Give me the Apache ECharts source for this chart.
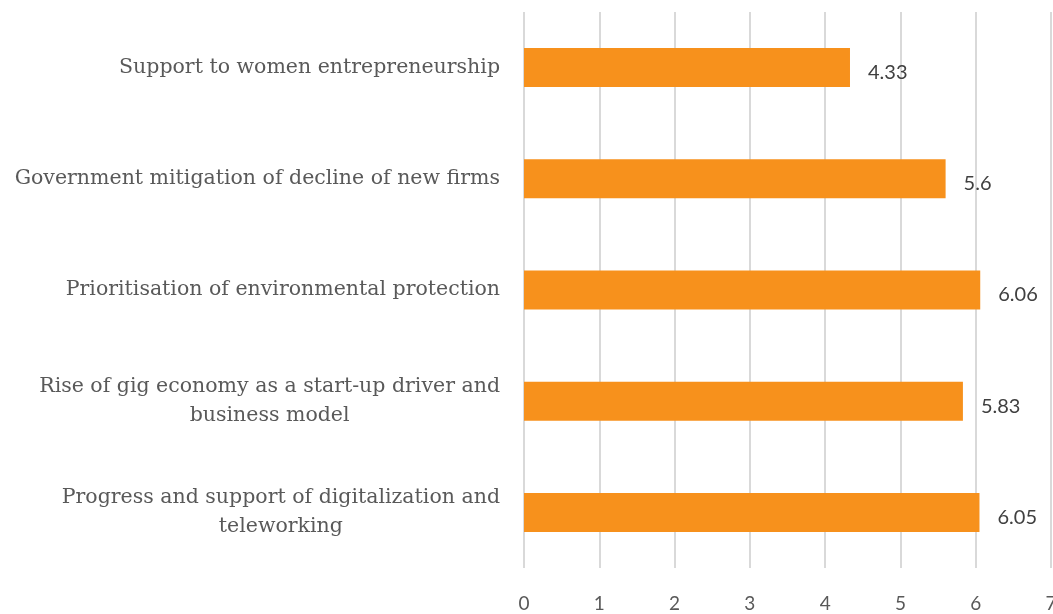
<!DOCTYPE html>
<html>
<head>
<meta charset="utf-8">
<script src="https://cdn.jsdelivr.net/npm/echarts@6/dist/echarts.min.js"></script>
<style>
  html, body { margin: 0; padding: 0; background: #fff; }
  #chart { width: 1053px; height: 614px; }
</style>
</head>
<body>
<div id="chart"></div>
<script>
// categories, top to bottom as drawn
const categories = [
  'Support to women entrepreneurship',
  'Government mitigation of decline of new firms',
  'Prioritisation of environmental protection',
  'Rise of gig economy as a start-up driver and\nbusiness model',
  'Progress and support of digitalization and\nteleworking'
];
const scores = [4.33, 5.6, 6.06, 5.83, 6.05];
const xTicks = [0, 7, 1]; // min, max, step

const chart = echarts.init(document.getElementById('chart'));

chart.setOption({
  backgroundColor: '#fff',
  animation: false,
  grid: { left: 524, right: 2, top: 12, bottom: 46, outerBoundsMode: 'none' },
  xAxis: {
    type: 'value',
    min: xTicks[0],
    max: xTicks[1],
    interval: xTicks[2],
    axisLine: { show: false },
    axisTick: { show: false },
    splitLine: { lineStyle: { color: '#d9d9d9', width: 2 } },
    axisLabel: { color: '#595959', fontFamily: 'Lato', fontSize: 19, margin: 26 }
  },
  yAxis: {
    type: 'category',
    inverse: true,
    data: categories,
    axisLine: { show: false },
    axisTick: { show: false },
    axisLabel: {
      margin: 24,
      color: '#595959',
      fontFamily: 'DejaVu Serif',
      fontSize: 20.5,
      lineHeight: 29,
      formatter: (v) => v.split('\n').map((l) => '{c|' + l + '}').join('\n'),
      rich: {
        c: { align: 'center', color: '#595959', fontFamily: 'DejaVu Serif', fontSize: 20.5, lineHeight: 29 }
      }
    }
  },
  series: [{
    type: 'bar',
    data: scores,
    barWidth: 39,
    itemStyle: { color: '#F7911C' },
    label: {
      show: true,
      position: 'right',
      distance: 18,
      color: '#404040',
      fontFamily: 'Lato',
      fontSize: 20,
      offset: [0, 5]
    }
  }]
});
</script>
</body>
</html>
